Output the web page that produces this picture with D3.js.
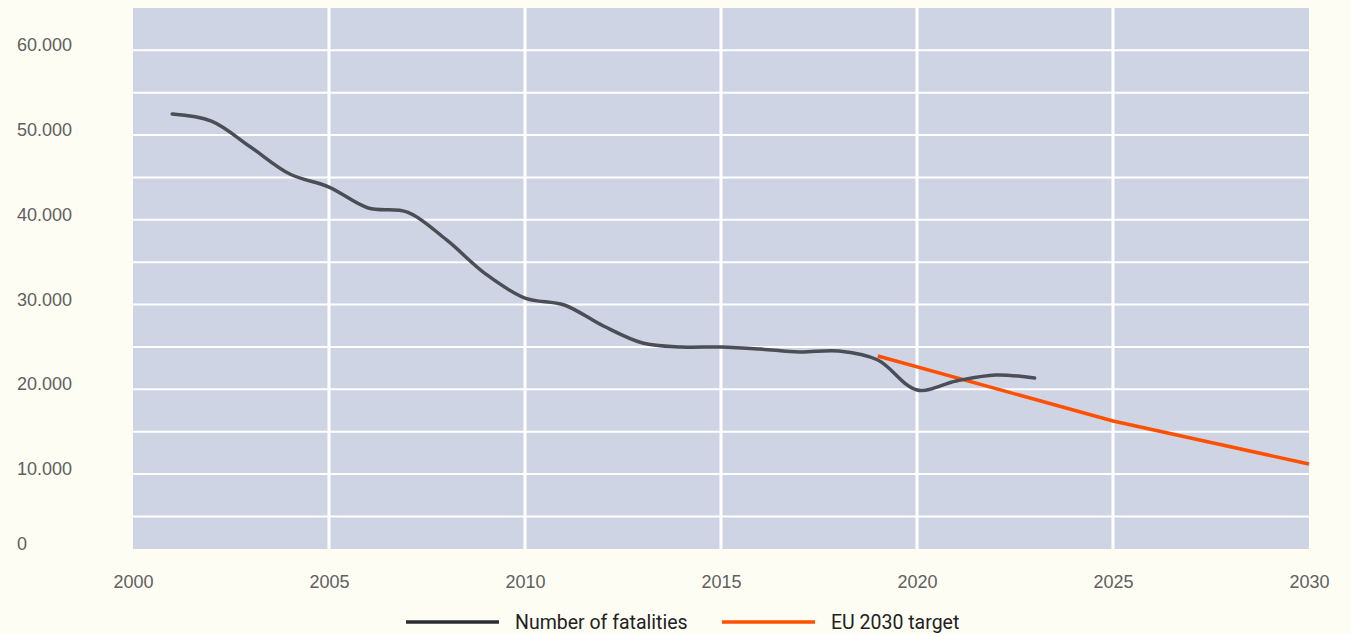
<!DOCTYPE html>
<html>
<head>
<meta charset="utf-8">
<script src="https://cdn.jsdelivr.net/npm/d3@7"></script>
<style>
  html, body { margin: 0; padding: 0; background: #fdfdf4; }
  svg { display: block; }
</style>
</head>
<body>
<figure id="fatalities" style="margin:0"></figure>
<script>
// data
const years = [2001, 2002, 2003, 2004, 2005, 2006, 2007, 2008, 2009, 2010, 2011, 2012,
               2013, 2014, 2015, 2016, 2017, 2018, 2019, 2020, 2021, 2022, 2023];
const fatalities = [52490, 51660, 48590, 45410, 43870, 41400, 40920, 37620, 33600, 30770, 29950, 27470,
                    25460, 24990, 24990, 24750, 24400, 24520, 23460, 19920, 20980, 21690, 21330];
const targetYears = [2019, 2025, 2030];
const targetValues = [23930, 16260, 11180];
const yTicks = [0, 10000, 20000, 30000, 40000, 50000, 60000];
const yGrid = [5000, 10000, 15000, 20000, 25000, 30000, 35000, 40000, 45000, 50000, 55000, 60000];
const xTicks = [2000, 2005, 2010, 2015, 2020, 2025, 2030];
const legendItems = ["Number of fatalities", "EU 2030 target"];

const W = 1351, H = 634;
const margin = {top: 8, right: 42, bottom: 85, left: 133};
const width = W - margin.left - margin.right,
      height = H - margin.top - margin.bottom;

const svg = d3.select("figure#fatalities")
  .append("svg")
  .attr("width", W)
  .attr("height", H);

const g = svg.append("g")
  .attr("transform", `translate(${margin.left}, ${margin.top})`);

const x = d3.scaleLinear()
  .domain([2000, 2030])
  .range([0, width]);

// the plot bottom sits a little above zero in the original, so clamp the 0 label to it
const y = d3.scaleLinear()
  .domain([1150, 65000])
  .range([height, 0])
  .clamp(true);

// plot background
g.append("rect")
  .attr("width", width)
  .attr("height", height)
  .attr("fill", "#cfd4e4");

// horizontal grid
g.append("g")
  .selectAll("line")
  .data(yGrid)
  .join("line")
  .attr("x1", 0)
  .attr("x2", width)
  .attr("y1", d => y(d))
  .attr("y2", d => y(d))
  .attr("stroke", "#ffffff")
  .attr("stroke-width", 2);

// vertical grid
g.append("g")
  .selectAll("line")
  .data(xTicks.slice(1, -1))
  .join("line")
  .attr("x1", d => x(d))
  .attr("x2", d => x(d))
  .attr("y1", 0)
  .attr("y2", height)
  .attr("stroke", "#ffffff")
  .attr("stroke-width", 3);

// y labels, left aligned
const fmt = d => d3.format(",")(d).replace(/,/g, ".");
svg.append("g")
  .selectAll("text")
  .data(yTicks)
  .join("text")
  .attr("x", 17)
  .attr("y", d => margin.top + y(d) + 1)
  .attr("font-family", "'Liberation Sans', Arial, sans-serif")
  .attr("font-size", 18)
  .attr("fill", "#606060")
  .text(fmt);

// x axis labels
const xAxis = g.append("g")
  .attr("transform", `translate(0, ${height})`)
  .call(d3.axisBottom(x).tickValues(xTicks).tickFormat(d3.format("d")).tickSize(0).tickPadding(26));
xAxis.select(".domain").remove();
xAxis.selectAll("text")
  .attr("font-family", "'Liberation Sans', Arial, sans-serif")
  .attr("font-size", 18)
  .attr("fill", "#606060");

// lines
const fatalData = years.map((yr, i) => ({yr, v: fatalities[i]}));
const targetData = targetYears.map((yr, i) => ({yr, v: targetValues[i]}));

g.append("path")
  .datum(targetData)
  .attr("fill", "none")
  .attr("stroke", "#ff5000")
  .attr("stroke-width", 3.5)
  .attr("d", d3.line().x(d => x(d.yr)).y(d => y(d.v)));

g.append("path")
  .datum(fatalData)
  .attr("fill", "none")
  .attr("stroke", "#4b4e56")
  .attr("stroke-width", 3.5)
  .attr("stroke-linecap", "round")
  .attr("d", d3.line().curve(d3.curveCatmullRom.alpha(0.5)).x(d => x(d.yr)).y(d => y(d.v)));

// legend
const legendColors = ["#2b2d31", "#ff5000"];
const legend = svg.append("g")
  .attr("transform", "translate(406, 622)");
const item = legend.selectAll("g")
  .data(legendItems)
  .join("g")
  .attr("transform", (d, i) => `translate(${i * 316}, 0)`);
item.append("line")
  .attr("x1", 0)
  .attr("x2", 93)
  .attr("stroke", (d, i) => legendColors[i])
  .attr("stroke-width", 3.5);
item.append("text")
  .attr("x", 109)
  .attr("y", 7)
  .attr("font-family", "Roboto, sans-serif")
  .attr("font-size", 19.5)
  .attr("fill", "#222222")
  .text(d => d);
</script>
</body>
</html>
